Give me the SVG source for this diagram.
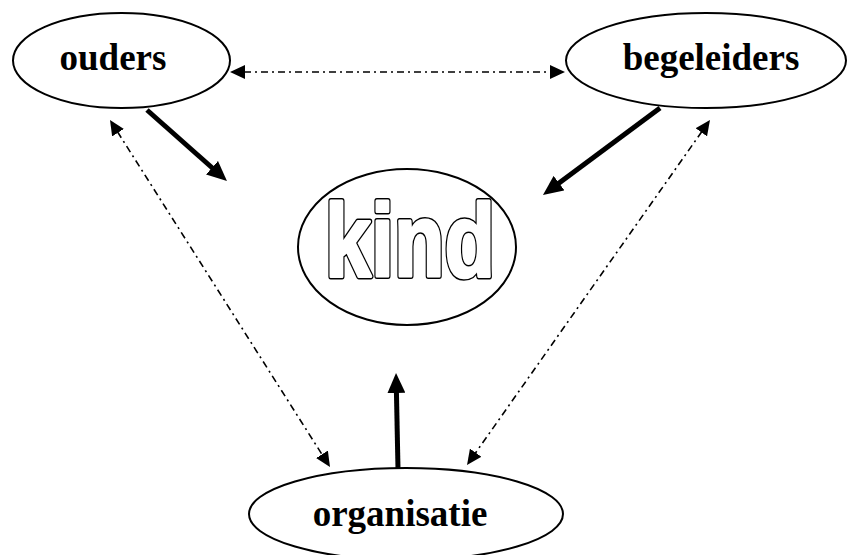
<svg xmlns="http://www.w3.org/2000/svg" width="849" height="555" viewBox="0 0 849 555">
<style>
.node{fill:#fff;stroke:#000;stroke-width:2}
.lbl{font-family:"Liberation Serif","Times New Roman",serif;font-weight:bold;font-size:37px;fill:#000;text-anchor:middle}
.kind{font-family:"Liberation Sans",Arial,sans-serif;font-weight:bold;font-size:103px;text-anchor:middle;stroke-linejoin:round}
.kind-out{fill:#000;stroke:#000;stroke-width:6}
.kind-in{fill:#fff;stroke:#fff;stroke-width:3}
.thick{stroke:#000;stroke-width:5;fill:none}
.dd{stroke:#000;stroke-width:1.6;fill:none;stroke-dasharray:7 4 2 4}
</style>
<defs>
<marker id="big" markerUnits="userSpaceOnUse" markerWidth="20" markerHeight="18" refX="2" refY="9" orient="auto"><path d="M0,0 L20,9 L0,18 z" fill="#000"/></marker>
<marker id="small" markerUnits="userSpaceOnUse" markerWidth="15" markerHeight="14" refX="1" refY="7" orient="auto-start-reverse"><path d="M0,0 L15,7 L0,14 z" fill="#000"/></marker>
</defs>
<g id="connectors">
<line class="dd" x1="244" y1="72" x2="551" y2="72" marker-start="url(#small)" marker-end="url(#small)"/>
<line class="dd" x1="117.5" y1="131.8" x2="322.5" y2="455.2" marker-start="url(#small)" marker-end="url(#small)"/>
<line class="dd" x1="701.9" y1="131.5" x2="475.1" y2="453.5" marker-start="url(#small)" marker-end="url(#small)"/>
<line class="thick" x1="147" y1="110" x2="213.5" y2="169" marker-end="url(#big)"/>
<line class="thick" x1="660" y1="108" x2="557.4" y2="184.3" marker-end="url(#big)"/>
<line class="thick" x1="398" y1="469" x2="396.4" y2="391" marker-end="url(#big)"/>
</g>
<g id="ouders"><ellipse class="node" cx="121.5" cy="60.5" rx="108.5" ry="47.5"/><text class="lbl" x="113" y="70">ouders</text></g>
<g id="begeleiders"><ellipse class="node" cx="706" cy="60.5" rx="140" ry="47.5"/><text class="lbl" x="711" y="70">begeleiders</text></g>
<g id="kind"><ellipse class="node" cx="407" cy="247" rx="109" ry="78"/>
<text class="kind kind-out" x="410" y="276" textLength="170" lengthAdjust="spacingAndGlyphs">kind</text>
<text class="kind kind-in" x="410" y="276" textLength="170" lengthAdjust="spacingAndGlyphs">kind</text></g>
<g id="organisatie"><ellipse class="node" cx="406" cy="514" rx="157" ry="46"/><text class="lbl" x="400" y="526">organisatie</text></g>
</svg>
